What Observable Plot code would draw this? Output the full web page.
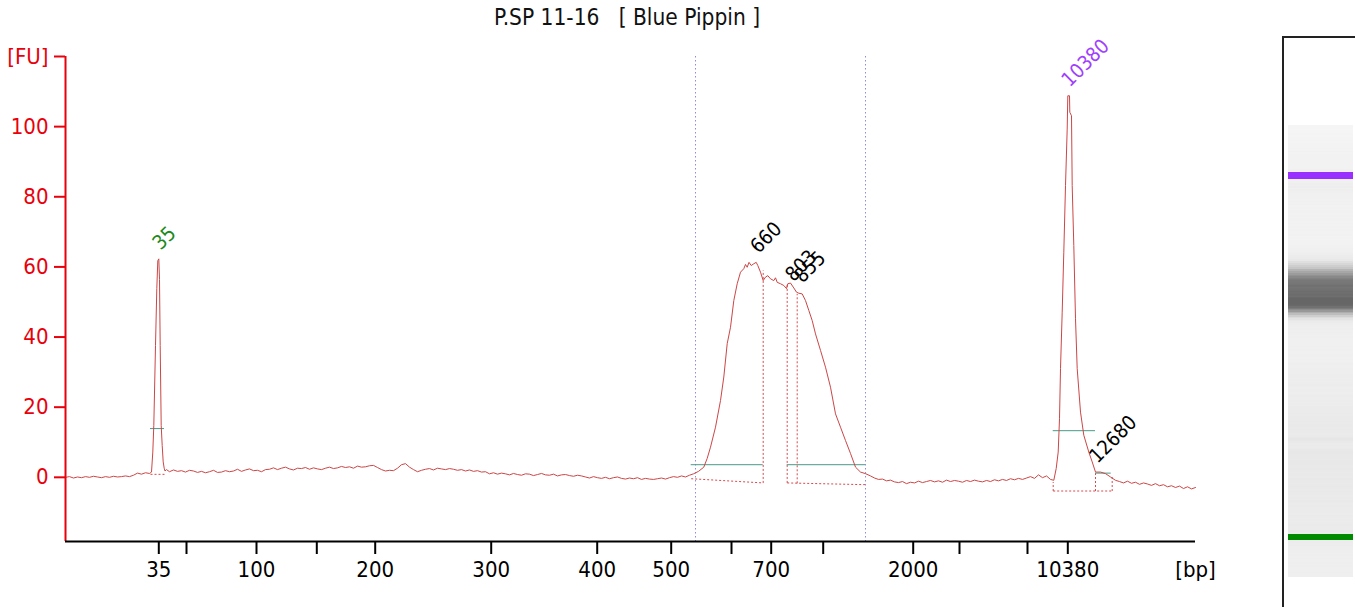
<!DOCTYPE html>
<html>
<head>
<meta charset="utf-8">
<script src="https://cdn.jsdelivr.net/npm/d3@7"></script>
<script src="https://cdn.jsdelivr.net/npm/@observablehq/plot@0.6"></script>
<style>
html,body{margin:0;padding:0;background:#fff;}
#wrap{position:relative;width:1355px;height:607px;overflow:hidden;font-family:"DejaVu Sans Condensed","DejaVu Sans",sans-serif;}
#title{position:absolute;left:0;top:4px;width:1254px;text-align:center;font-size:22.5px;white-space:pre;color:#111;}
#main{position:absolute;left:0;top:36px;}
#gel{position:absolute;left:1282px;top:36px;width:80px;height:580px;border-left:2px solid #222;border-top:2px solid #222;}
</style>
</head>
<body>
<div id="wrap">
  <div id="title"></div>
  <div id="main"></div>
  <div id="gel"></div>
</div>
<script>
// ---------- DATA (migration time in s, fluorescence in FU) ----------
const title = "P.SP 11-16   [ Blue Pippin ]";

// ladder (bp) and its migration times; only some are labelled
const ladderSizes = [35, 50, 100, 150, 200, 300, 400, 500, 600, 700, 1000, 2000, 3000, 7000, 10380];
const ladderTimes = [49.33, 52.1, 59.1, 65.13, 70.97, 82.57, 93.17, 100.57, 106.6, 110.57, 115.77, 124.77, 129.4, 136.2, 140.23];
const ladderLabels = ["35", "", "100", "", "200", "300", "400", "500", "", "700", "", "2000", "", "", "10380"];

const yTicks = [0, 20, 40, 60, 80, 100, 120];

// baseline segments: sampled every 0.4 s from a start time
const baseA_t0 = 40.0;
const baseA = [0.0, 0.2, -0.2, 0.1, -0.1, 0.2, 0.0, 0.3, 0.1, -0.1, 0.2, 0.0, 0.3, 0.1, 0.2, 0.4, 0.2, 0.6, 1.2, 0.9, 1.3, 1.1];
const baseB_t0 = 50.4;
const baseB = [1.6, 2.1, 1.7, 1.9, 1.5, 2.0, 1.8, 1.4,
  1.7, 1.3, 1.6, 2.0, 1.4, 1.5, 1.9, 1.6,
  1.8, 2.3, 1.7, 2.1, 2.4, 1.9, 2.0, 1.6, 2.2,
  2.3, 2.7, 2.2, 2.6, 2.9, 2.4, 2.1, 2.6, 2.5, 2.8, 2.3, 2.7, 2.4, 2.2, 2.6, 2.9, 2.5,
  2.7, 3.1, 2.8, 3.0, 2.6, 3.2, 2.9, 3.0, 3.3,
  3.4, 2.8, 2.2, 1.8, 2.0, 1.9, 2.6, 3.6, 3.9, 2.9, 2.2, 1.6, 2.0,
  2.3, 2.5, 2.1, 2.6, 2.4, 2.2, 2.5, 2.3,
  2.0, 2.2, 1.8, 2.1, 1.7, 1.9, 1.5, 1.6,
  1.0, 1.3, 0.9, 1.2,
  1.0, 0.7, 1.1, 0.8, 0.6, 1.0, 0.9, 0.5, 0.8, 1.1, 0.7, 0.6, 0.9, 0.4, 0.7, 0.8, 0.5, 0.3, 0.6, 0.4,
  0.1, -0.2, 0.2, -0.1, -0.3, 0.0, -0.4, -0.1, 0.1, -0.3, -0.5, -0.2, -0.4, -0.1, -0.6, -0.3, -0.5, -0.6, -0.4, -0.2, -0.5,
  -0.1, 0.2, 0.0, 0.4, 0.1, 0.6, 1.0];
const baseC_t0 = 120.9;
const baseC = [-0.2, -0.6, -0.5, -1.0, -0.8, -1.3, -1.5, -1.2, -1.8, -1.4, -1.6, -1.1, -1.5, -1.2, -0.9,
  -1.3, -1.0, -1.4, -0.8, -1.2, -0.9, -1.1, -1.4, -0.9, -1.2, -0.8, -1.1, -1.3, -0.9, -1.2,
  -0.7, -1.0, -0.6, -0.9, -0.4, -0.7, -0.3, -0.6, -0.2, 0.2, -0.3, 0.7, -0.1, 0.4, -0.6];
const baseD_t0 = 145.4;
const baseD = [-1.2, -1.6, -1.1, -1.7, -1.4, -2.0, -1.6, -1.9, -2.3, -1.8, -2.4, -2.1, -2.7, -2.4, -2.9, -2.5, -3.2, -2.7, -3.3, -2.9];
const sampleStep = 0.4;

// peaks: [time, FU]
const peakLower = [[48.6, 1.5], [48.73, 7.2], [48.83, 14.8], [49.0, 37.6], [49.13, 53.8], [49.23, 61.8], [49.33, 62.3],
  [49.4, 56.4], [49.47, 37.6], [49.57, 14.8], [49.67, 9.1], [49.77, 4.4], [49.87, 2.6], [49.95, 1.8], [50.1, 2.2]];
const peakLibrary = [[103.3, 1.7], [103.83, 2.9], [104.17, 5.4], [104.5, 8.6], [105.0, 14.3], [105.5, 21.9], [105.83, 28.6],
  [106.17, 38.1], [106.5, 42.8], [106.83, 50.4], [107.17, 55.2], [107.5, 58.5], [107.83, 59.5], [108.0, 60.7], [108.17, 59.9],
  [108.35, 61.3], [108.57, 60.4], [108.83, 60.9], [109.07, 61.3], [109.23, 60.4], [109.5, 58.5], [109.77, 56.1], [110.0, 57.1],
  [110.23, 57.5], [110.5, 56.6], [110.83, 56.1], [111.0, 56.9], [111.17, 55.6], [111.5, 55.2], [111.83, 54.7], [112.1, 53.8],
  [112.23, 55.2], [112.5, 55.4], [112.83, 54.0], [113.1, 52.8], [113.33, 52.5], [113.67, 52.3], [114.0, 50.4], [114.33, 47.6],
  [114.67, 44.7], [115.0, 40.9], [115.5, 36.2], [116.0, 31.4], [116.5, 25.7], [117.0, 18.1], [117.5, 14.3], [118.0, 10.5],
  [118.5, 6.8], [119.0, 2.9], [119.5, 1.5], [120.0, 1.05], [120.5, 0.4]];
const peakUpper = [[138.83, -0.85], [139.07, 2.5], [139.27, 7.2], [139.4, 16.7], [139.5, 31.0], [139.67, 47.1], [139.83, 64.2],
  [140.0, 83.2], [140.17, 99.3], [140.23, 108.8], [140.4, 108.8], [140.43, 104.1], [140.6, 103.1], [140.67, 83.2],
  [140.83, 66.1], [141.0, 45.2], [141.17, 31.0], [141.5, 18.6], [141.83, 12.0], [142.33, 7.2], [142.67, 4.4],
  [143.0, 1.5], [143.5, 1.5], [144.0, 1.05], [144.5, 0.1], [145.0, -0.85]];

// peak annotations
const peakNames = ["35", "660", "803", "855", "10380", "12680"];
const peakTimes = [49.33, 109.1, 112.6, 113.5, 140.23, 143.0];
const peakHeights = [62.3, 61.3, 53.3, 52.9, 108.8, 1.5];
const peakColors = ["#1a8a1a", "#000000", "#000000", "#000000", "#a040ff", "#000000"];

// region (smear) boundaries
const regionTimes = [103.0, 120.0];
// peak height lines [t1, t2, FU]
const heightLines = [[48.5, 49.9, 13.9], [102.57, 109.77, 3.6], [112.17, 120.0, 3.6], [138.77, 143.0, 13.3], [143.0, 144.57, 1.2]];
// peak integration boundaries (dotted) [t1, FU1, t2, FU2]
const integrationLines = [
  [48.5, 0.85, 49.9, 0.85],
  [102.57, -0.4, 109.77, -1.6], [109.77, -1.6, 109.77, 59.0],
  [112.17, -1.6, 120.0, -2.1], [112.17, -1.6, 112.17, 55.2], [113.17, -1.7, 113.17, 52.3],
  [138.77, -3.9, 144.67, -3.9], [138.77, -3.9, 138.77, -1.35], [143.0, -3.9, 143.0, 1.2], [144.67, -3.9, 144.67, 0.6]
];

// gel markers
const markerTimes = [140.2, 49.3];
const markerHalfWidths = [0.85, 0.75];
const markerColors = ["#9a30ff", "#008a00"];

// ---------- BUILD ----------
document.getElementById("title").textContent = title;
const seg = (t0, arr) => arr.map((fu, i) => ({t: +(t0 + i * sampleStep).toFixed(3), fu}));
const pairs = arr => arr.map(([t, fu]) => ({t, fu}));
const trace = [
  ...seg(baseA_t0, baseA), ...pairs(peakLower), ...seg(baseB_t0, baseB), ...pairs(peakLibrary),
  ...seg(baseC_t0, baseC), ...pairs(peakUpper), ...seg(baseD_t0, baseD)
];
const labelOf = new Map(ladderTimes.map((t, i) => [t, ladderLabels[i]]));
const peaks = peakNames.map((name, i) => ({name, t: peakTimes[i], fu: peakHeights[i], color: peakColors[i]}));
const hLines = heightLines.map(([t1, t2, fu]) => ({t1, t2, fu}));
const iLines = integrationLines.map(([x1, y1, x2, y2]) => ({x1, y1, x2, y2}));

const FONT = '"DejaVu Sans Condensed","DejaVu Sans",sans-serif';
const RED = "#e8000b";
const xDomain = [40, 153];
const yDomain = [-18.3, 120];

const main = Plot.plot({
  width: 1230, height: 571,
  marginLeft: 65, marginRight: 35, marginTop: 20, marginBottom: 66,
  x: {domain: xDomain, axis: null},
  y: {domain: yDomain, axis: null},
  color: {type: "identity"},
  style: {fontFamily: FONT, fontSize: "22px", background: "transparent", overflow: "visible"},
  marks: [
    Plot.ruleX(regionTimes, {stroke: "#8e8ed6", strokeWidth: 1, strokeDasharray: "1.5,2.5"}),
    Plot.link(iLines, {x1: "x1", y1: "y1", x2: "x2", y2: "y2", stroke: "#d8494b", strokeWidth: 1, strokeDasharray: "2,2"}),
    Plot.ruleY(hLines, {y: "fu", x1: "t1", x2: "t2", stroke: "#4a9a88", strokeWidth: 1}),
    Plot.line(trace, {x: "t", y: "fu", stroke: "#cc4646", strokeWidth: 1}),
    Plot.text(peaks, {x: "t", y: "fu", text: "name", fill: "color", rotate: -45, textAnchor: "start", lineAnchor: "bottom",
      dx: 2, dy: -8, fontSize: 20}),
    Plot.ruleX([xDomain[0]], {stroke: RED, strokeWidth: 2}),
    Plot.ruleY([yDomain[0]], {stroke: "#000", strokeWidth: 2}),
    Plot.axisY({ticks: yTicks, tickFormat: d => d === 120 ? "[FU]" : String(d), tickSize: 11, tickPadding: 6,
      color: RED, stroke: RED, fill: RED, strokeWidth: 2, fontSize: 22, label: null}),
    Plot.axisX({ticks: ladderTimes, tickFormat: d => labelOf.get(d), tickSize: 13, tickPadding: 7,
      color: "#000", strokeWidth: 2, fontSize: 22, label: null}),
    Plot.text(["[bp]"], {x: xDomain[1], y: yDomain[0], dy: 20, lineAnchor: "top", fontSize: 22, fill: "#000"})
  ]
});
document.getElementById("main").append(main);

// ---------- GEL LANE ----------
const gelDomain = [39.3, 152.4];
const gelSamples = [...seg(baseA_t0, baseA), ...seg(baseB_t0, baseB), ...pairs(peakLibrary), ...seg(baseC_t0, baseC), ...seg(baseD_t0, baseD)]
  .sort((a, b) => a.t - b.t);
const gelCells = gelSamples.map((d, i) => {
  const lo = i === 0 ? gelDomain[0] : (gelSamples[i - 1].t + d.t) / 2;
  const hi = i === gelSamples.length - 1 ? gelDomain[1] : (gelSamples[i + 1].t + d.t) / 2;
  return {y1: Math.max(lo, gelDomain[0]), y2: Math.min(hi, gelDomain[1]), fu: d.fu};
});
const markers = markerTimes.map((t, i) => ({y1: t - markerHalfWidths[i], y2: t + markerHalfWidths[i], color: markerColors[i]}));

const gel = Plot.plot({
  width: 71, height: 569,
  marginLeft: 4, marginRight: 2, marginTop: 89, marginBottom: 30,
  x: {domain: [0, 1], axis: null},
  y: {domain: gelDomain, axis: null},
  color: {type: "linear", domain: [-4, 60], range: ["#f8f8f8", "#666666"], clamp: true},
  style: {background: "transparent"},
  marks: [
    Plot.rect(gelCells, {x1: 0, x2: 1, y1: "y1", y2: "y2", fill: "fu", shapeRendering: "crispEdges"}),
    Plot.rect(markers.slice(0, 1), {x1: 0, x2: 1, y1: "y1", y2: "y2", fill: markerColors[0], shapeRendering: "crispEdges"}),
    Plot.rect(markers.slice(1, 2), {x1: 0, x2: 1, y1: "y1", y2: "y2", fill: markerColors[1], shapeRendering: "crispEdges"})
  ]
});
document.getElementById("gel").append(gel);
</script>
</body>
</html>
